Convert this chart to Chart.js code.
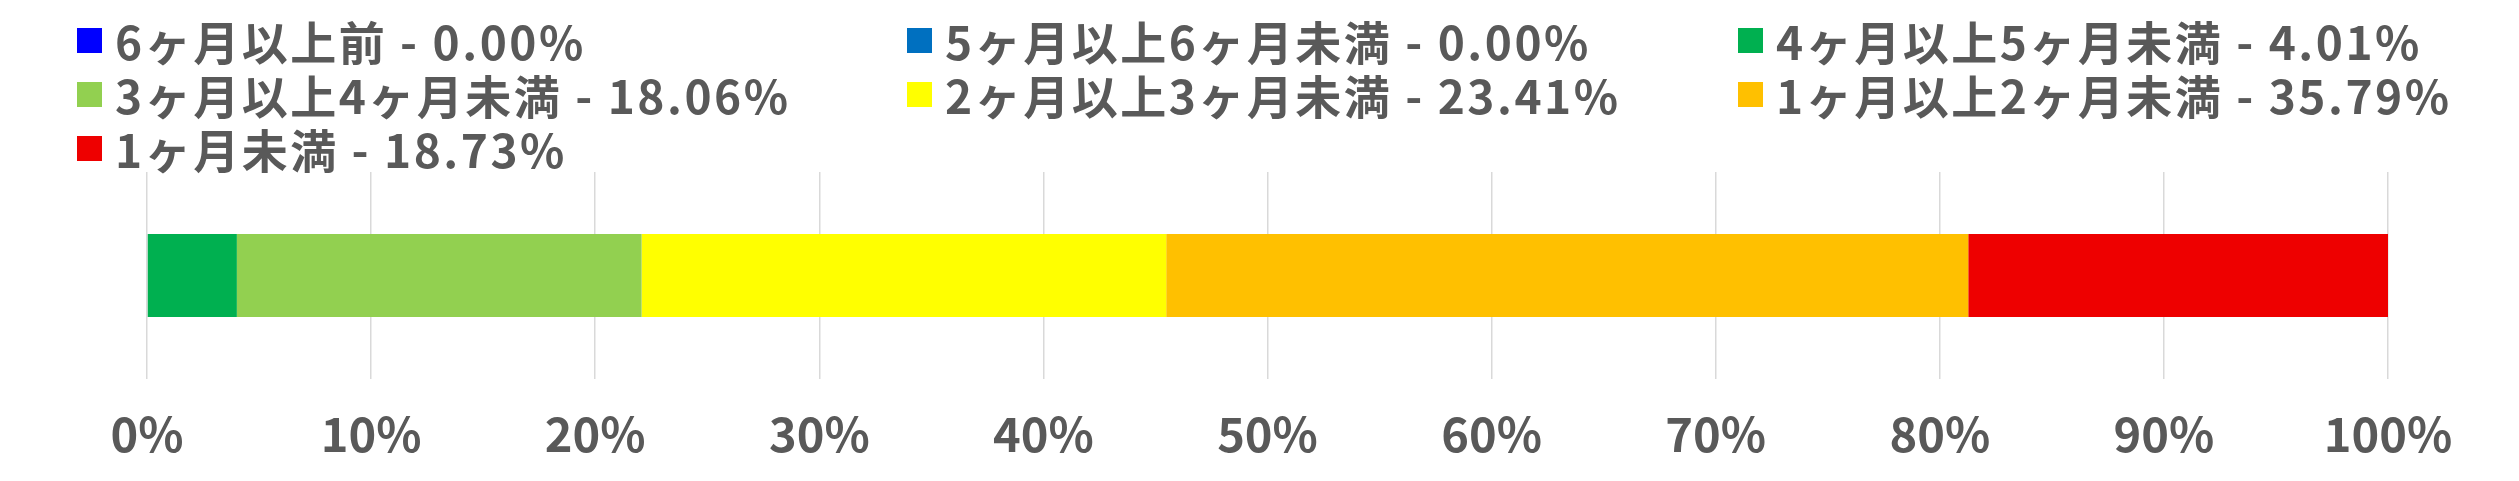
<!DOCTYPE html>
<html>
<head>
<meta charset="utf-8">
<script src="https://cdn.jsdelivr.net/npm/chart.js@4/dist/chart.umd.min.js"></script>
<style>
  html, body { margin: 0; padding: 0; background: #ffffff; }
  #wrap { position: relative; width: 2519px; height: 481px; overflow: hidden; }
  #chart { position: absolute; left: 0; top: 0; }
  #legend {
    position: absolute; left: 77px; top: 13px;
    display: grid; grid-template-columns: 830px 831px 831px; grid-auto-rows: 54px;
    font-family: "Noto Sans CJK JP", "Noto Sans", sans-serif; font-weight: bold;
    font-size: 46px; letter-spacing: 2.5px; color: #595959; line-height: 54px;
  }
  .item { display: flex; align-items: center; white-space: nowrap; }
  .box { width: 25px; height: 25px; margin-right: 13px; flex: none; }
</style>
</head>
<body>
<div id="wrap">
  <canvas id="chart" width="2519" height="481"></canvas>
  <div id="legend"></div>
</div>
<script>
const categories = [""];
const seriesLabels = [
  "6ヶ月以上前",
  "5ヶ月以上6ヶ月未満",
  "4ヶ月以上5ヶ月未満",
  "3ヶ月以上4ヶ月未満",
  "2ヶ月以上3ヶ月未満",
  "1ヶ月以上2ヶ月未満",
  "1ヶ月未満"
];
const seriesValues = [0.00, 0.00, 4.01, 18.06, 23.41, 35.79, 18.73];
const seriesColors = ["#0000FF", "#0070C0", "#00B050", "#92D050", "#FFFF00", "#FFC000", "#EE0000"];
const tickValues = [0, 10, 20, 30, 40, 50, 60, 70, 80, 90, 100];

const datasets = seriesLabels.map((lab, i) => ({
  label: lab,
  data: [seriesValues[i]],
  backgroundColor: seriesColors[i],
  borderWidth: 0,
  barPercentage: 0.4,
  categoryPercentage: 1.0
}));

// HTML legend
const legendEl = document.getElementById('legend');
seriesLabels.forEach((lab, i) => {
  const it = document.createElement('div');
  it.className = 'item';
  const b = document.createElement('span');
  b.className = 'box';
  b.style.background = seriesColors[i];
  const t = document.createElement('span');
  t.textContent = lab + ' - ' + seriesValues[i].toFixed(2) + '%';
  it.appendChild(b); it.appendChild(t);
  legendEl.appendChild(it);
});

new Chart(document.getElementById('chart'), {
  type: 'bar',
  data: { labels: categories, datasets: datasets },
  options: {
    indexAxis: 'y',
    responsive: false,
    animation: false,
    devicePixelRatio: 1,
    layout: { padding: { top: 172, left: 147, right: 131, bottom: 0 } },
    plugins: { legend: { display: false }, tooltip: { enabled: false } },
    scales: {
      x: {
        stacked: true,
        min: 0, max: 100,
        afterBuildTicks: (axis) => { axis.ticks = tickValues.map(v => ({ value: v })); },
        afterFit: (axis) => { axis.height = 102; },
        grid: { color: '#D9D9D9', lineWidth: 1.5, drawTicks: false },
        border: { display: false },
        ticks: {
          padding: 27,
          color: '#595959',
          font: { family: '"Noto Sans CJK JP", "Noto Sans", sans-serif', size: 47, weight: 'bold' },
          callback: (v) => v + '%'
        }
      },
      y: {
        stacked: true,
        display: false
      }
    }
  }
});
</script>
</body>
</html>
